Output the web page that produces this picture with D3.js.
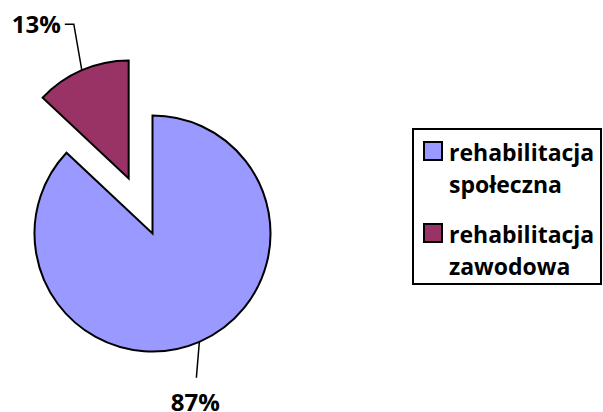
<!DOCTYPE html>
<html><head><meta charset="utf-8">
<script src="https://cdn.jsdelivr.net/npm/d3@7"></script>
<style>body{margin:0;background:#fff}svg{display:block}text{font-family:"Open Sans",Lato,sans-serif;font-weight:bold}</style>
</head><body>
<svg id="c" width="603" height="412"></svg>
<script>
const categories = ["rehabilitacja społeczna", "rehabilitacja zawodowa"];
const values = [87, 13];
const labels = ["87%", "13%"];
const legendLines = [["rehabilitacja", "społeczna"], ["rehabilitacja", "zawodowa"]];
const colors = ["#9999FF", "#993366"];

const svg = d3.select("#c");
const cx = 152.5, cy = 233.5, r = 118, explode = 60;
const pie = d3.pie().sort(null).startAngle(0).endAngle(2 * Math.PI);
const arcs = pie(values);
const arc = d3.arc().innerRadius(0).outerRadius(r);
const g = svg.append("g").attr("transform", `translate(${cx},${cy})`);

function off(d, i) {
  if (i === 0) return [0, 0];
  const m = (d.startAngle + d.endAngle) / 2;
  return [Math.sin(m) * explode, -Math.cos(m) * explode];
}
g.selectAll("path").data(arcs).join("path")
  .attr("d", arc)
  .attr("transform", (d, i) => `translate(${off(d, i)})`)
  .attr("fill", (d, i) => colors[i])
  .attr("stroke", "#000").attr("stroke-width", 2).attr("stroke-linejoin", "miter");

// leader lines and labels
arcs.forEach((d, i) => {
  const m = (d.startAngle + d.endAngle) / 2;
  const [ox, oy] = off(d, i);
  const px = ox + Math.sin(m) * r, py = oy - Math.cos(m) * r;
  if (i === 0) {
    g.append("path").attr("d", `M${px},${py}L${px - 3},${py + 36}`)
      .attr("fill", "none").attr("stroke", "#000").attr("stroke-width", 1.5);
    g.append("text").attr("x", px - 4).attr("y", py + 69).attr("text-anchor", "middle")
      .attr("font-size", 24).text(labels[i]);
  } else {
    g.append("path").attr("d", `M${px},${py}L${px - 8},${py - 46}L${px - 17},${py - 46}`)
      .attr("fill", "none").attr("stroke", "#000").attr("stroke-width", 1.5);
    g.append("text").attr("x", px - 21).attr("y", py - 37).attr("text-anchor", "end")
      .attr("font-size", 24).text(labels[i]);
  }
});

// legend
const lg = svg.append("g");
lg.append("rect").attr("x", 413).attr("y", 129).attr("width", 188).attr("height", 155)
  .attr("fill", "#fff").attr("stroke", "#000").attr("stroke-width", 2);
categories.forEach((c, i) => {
  const y0 = 142 + i * 82;
  lg.append("rect").attr("x", 424).attr("y", y0).attr("width", 18).attr("height", 18)
    .attr("fill", colors[i]).attr("stroke", "#000").attr("stroke-width", 2);
  const t = lg.append("text").attr("y", y0 + 19).attr("font-size", 23);
  legendLines[i].forEach((s, k) => t.append("tspan").attr("x", 449).attr("dy", k === 0 ? 0 : 32).text(s));
});
</script>
</body></html>
